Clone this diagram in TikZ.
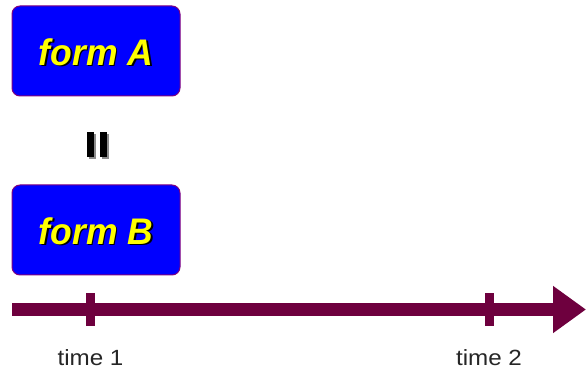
\documentclass[tikz,border=0pt]{standalone}
\usepackage{fontspec}
\setmainfont{Liberation Sans}
\usetikzlibrary{arrows.meta}
\definecolor{boxblue}{RGB}{0,0,255}
\definecolor{boxedge}{RGB}{128,0,128}
\definecolor{formyellow}{RGB}{255,255,0}
\definecolor{axiscol}{RGB}{110,0,62}
\tikzset{
  formbox/.style={draw=boxedge, line width=1pt, fill=boxblue, rounded corners=8pt,
    minimum width=168pt, minimum height=90pt, inner sep=0pt},
  formtext/.style={font=\fontsize{37}{37}\selectfont\bfseries\itshape, text=formyellow, xscale=0.96},
  shadowtext/.style={font=\fontsize{37}{37}\selectfont\bfseries\itshape, text=black, xscale=0.96},
  timelabel/.style={font=\fontsize{22}{22}\selectfont, text=black!85, xscale=1.1},
  tickmark/.style={fill=axiscol, draw=none},
  eqbar/.style={fill=black, draw=none},
  eqshadow/.style={fill=black!45, draw=none}
}
\begin{document}
\begin{tikzpicture}[x=1pt,y=1pt]
\useasboundingbox (0,0) rectangle (586,-379);
% boxes
\node[formbox] (A) at (96,-51) {};
\node[shadowtext] at (97.5,-53.5) {form A};
\node[formtext] (At) at (96,-52) {form A};
\node[formbox] (B) at (96,-230) {};
\node[shadowtext] at (97.5,-232.5) {form B};
\node[formtext] (Bt) at (96,-231) {form B};
% rotated equals sign
\fill[eqshadow] (89,-134) rectangle (96,-159);
\fill[eqshadow] (102,-134) rectangle (109,-159);
\fill[eqbar] (87,-132) rectangle (94,-157);
\fill[eqbar] (100,-132) rectangle (107,-157);
% time axis
\coordinate (s) at (12,-309.5);
\coordinate (e) at (586,-309.5);
\draw[axiscol, line width=13pt, -{Triangle[length=33pt,width=45pt]}] (s) -- (e);
\node[tickmark, minimum width=9pt, minimum height=33pt, inner sep=0pt] (t1) at (90.5,-309.5) {};
\node[tickmark, minimum width=9pt, minimum height=33pt, inner sep=0pt] (t2) at (489,-309.5) {};
\node[timelabel, anchor=north] (l1) at (t1.south) [yshift=-20pt] {time 1};
\node[timelabel, anchor=north] (l2) at (t2.south) [yshift=-20pt] {time 2};
\end{tikzpicture}
\end{document}
